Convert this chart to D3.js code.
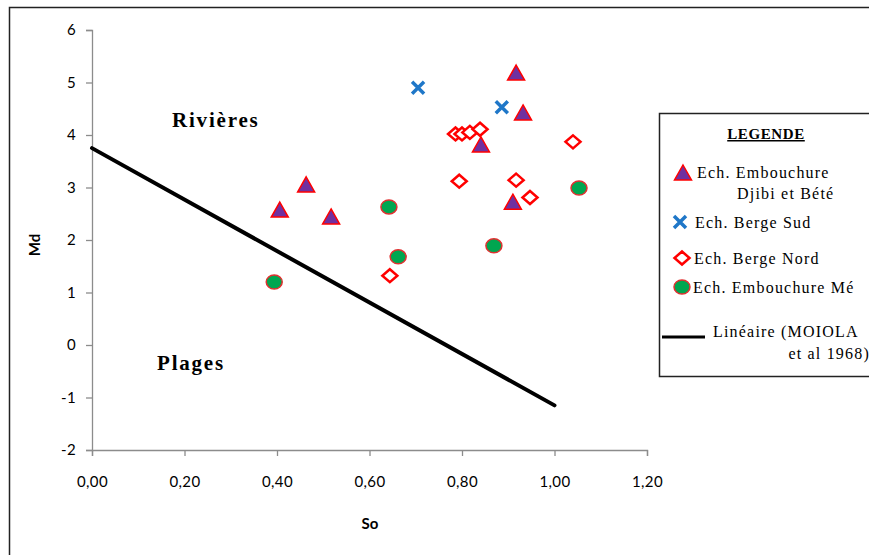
<!DOCTYPE html>
<html>
<head>
<meta charset="utf-8">
<script src="https://cdn.jsdelivr.net/npm/d3@7"></script>
<style>
  body { margin: 0; background: #fff; }
  svg text { fill: #000; }
</style>
</head>
<body>
<svg id="chart" width="869" height="555"></svg>
<script>
'use strict';

// Values (So, Md)
var djibiBete = [[0.406, 2.57], [0.463, 3.05], [0.517, 2.44], [0.917, 5.18],
                 [0.932, 4.42], [0.841, 3.81], [0.910, 2.72]];
var bergeSud = [[0.705, 4.90], [0.886, 4.53]];
var bergeNord = [[0.786, 4.02], [0.800, 4.02], [0.817, 4.05], [0.839, 4.11],
                 [1.040, 3.87], [0.794, 3.12], [0.917, 3.14], [0.947, 2.81],
                 [0.644, 1.32]];
var embouchureMe = [[0.642, 2.63], [0.662, 1.68], [0.394, 1.20],
                    [0.869, 1.89], [1.053, 2.99]];
var moiolaLine = [[0.0, 3.75], [1.0, -1.15]];

var xTicks = [0, 0.2, 0.4, 0.6, 0.8, 1.0, 1.2];
var yTicks = [-2, -1, 0, 1, 2, 3, 4, 5, 6];

var svg = d3.select('#chart');
var sans = 'Lato, "Open Sans", sans-serif';
var serif = '"Liberation Serif", "DejaVu Serif", serif';

// outer frame
svg.append('rect')
    .attr('x', 9.5).attr('y', 7.5)
    .attr('width', 880).attr('height', 580)
    .attr('fill', 'none').attr('stroke', '#222').attr('stroke-width', 1.5);

var x = d3.scaleLinear().domain([0, 1.2]).range([92, 647]);
var y = d3.scaleLinear().domain([-2, 6]).range([450, 30]);

var fmtX = function (d) { return d.toFixed(2).replace('.', ','); };
var fmtY = function (d) { return String(d); };   // plain hyphen for negatives

var xAxis = svg.append('g')
    .attr('transform', 'translate(0,' + y(-2) + ')')
    .call(d3.axisBottom(x).tickValues(xTicks).tickFormat(fmtX).tickSize(6).tickPadding(20));
var yAxis = svg.append('g')
    .attr('transform', 'translate(' + x(0) + ',0)')
    .call(d3.axisLeft(y).tickValues(yTicks).tickFormat(fmtY).tickSize(6).tickPadding(10));

[xAxis, yAxis].forEach(function (a) {
    a.select('.domain').attr('stroke', '#8c8c8c').attr('stroke-width', 1.3);
    a.selectAll('.tick line').attr('stroke', '#8c8c8c').attr('stroke-width', 1.3);
    a.selectAll('.tick text').attr('font-family', sans).attr('font-size', 15)
        .attr('letter-spacing', 0.4).attr('fill', '#000');
});

svg.append('text')
    .attr('x', 370).attr('y', 529)
    .attr('text-anchor', 'middle')
    .attr('font-family', sans).attr('font-size', 15).attr('font-weight', 'bold')
    .text('So');
svg.append('text')
    .attr('transform', 'translate(40,245) rotate(-90)')
    .attr('text-anchor', 'middle')
    .attr('font-family', sans).attr('font-size', 15).attr('font-weight', 'bold')
    .text('Md');

// zone labels
svg.append('text')
    .attr('x', 172).attr('y', 127)
    .attr('font-family', serif).attr('font-size', 21).attr('font-weight', 'bold')
    .attr('letter-spacing', 1.8)
    .text('Rivières');
svg.append('text')
    .attr('x', 157).attr('y', 370)
    .attr('font-family', serif).attr('font-size', 21).attr('font-weight', 'bold')
    .attr('letter-spacing', 1.8)
    .text('Plages');

// MOIOLA line
var line = d3.line()
    .x(function (d) { return x(d[0]); })
    .y(function (d) { return y(d[1]); });
svg.append('path')
    .datum(moiolaLine)
    .attr('d', line)
    .attr('fill', 'none').attr('stroke', '#000')
    .attr('stroke-width', 4).attr('stroke-linecap', 'round');

// marker shapes
var triPath = 'M0,-8L8.5,7L-8.5,7Z';
var diaPath = 'M0,-6.5L7.5,0L0,6.5L-7.5,0Z';
var crossPath = 'M-6,-6L6,6M6,-6L-6,6';

function drawTri(g, px, py) {
    g.append('path').attr('transform', 'translate(' + px + ',' + py + ')')
        .attr('d', triPath).attr('fill', '#7030a0')
        .attr('stroke', '#ff0000').attr('stroke-width', 1.5);
}
function drawCross(g, px, py) {
    g.append('path').attr('transform', 'translate(' + px + ',' + py + ')')
        .attr('d', crossPath).attr('fill', 'none')
        .attr('stroke', '#1f77c8').attr('stroke-width', 3.5);
}
function drawDia(g, px, py) {
    g.append('path').attr('transform', 'translate(' + px + ',' + py + ')')
        .attr('d', diaPath).attr('fill', '#fff')
        .attr('stroke', '#ff0000').attr('stroke-width', 2.5);
}
function drawCirc(g, px, py) {
    g.append('ellipse').attr('cx', px).attr('cy', py)
        .attr('rx', 8).attr('ry', 7).attr('fill', '#00a650')
        .attr('stroke', '#e03030').attr('stroke-width', 1.5);
}

var pts = svg.append('g');
embouchureMe.forEach(function (d) { drawCirc(pts, x(d[0]), y(d[1])); });
bergeNord.forEach(function (d) { drawDia(pts, x(d[0]), y(d[1])); });
djibiBete.forEach(function (d) { drawTri(pts, x(d[0]), y(d[1])); });
bergeSud.forEach(function (d) { drawCross(pts, x(d[0]), y(d[1])); });

// legend
var lg = svg.append('g');
lg.append('rect')
    .attr('x', 659.5).attr('y', 113.5).attr('width', 220).attr('height', 263)
    .attr('fill', '#fff').attr('stroke', '#222').attr('stroke-width', 1.5);
lg.append('text')
    .attr('x', 766).attr('y', 139).attr('text-anchor', 'middle')
    .attr('font-family', serif).attr('font-size', 15).attr('font-weight', 'bold')
    .attr('letter-spacing', 0.6).attr('text-decoration', 'underline')
    .text('LEGENDE');

function legendText(tx, ty, s, anchor) {
    lg.append('text').attr('x', tx).attr('y', ty)
        .attr('text-anchor', anchor || 'start')
        .attr('font-family', serif).attr('font-size', 16)
        .attr('letter-spacing', 1.2)
        .text(s);
}
drawTri(lg, 683, 173);
legendText(697, 178, 'Ech. Embouchure');
legendText(737, 199, 'Djibi et Bété');
drawCross(lg, 680, 222);
legendText(695, 228, 'Ech. Berge Sud');
drawDia(lg, 682, 258);
legendText(694, 264, 'Ech. Berge Nord');
drawCirc(lg, 682, 287);
legendText(693, 293, 'Ech. Embouchure Mé');
lg.append('line')
    .attr('x1', 662).attr('x2', 705).attr('y1', 337).attr('y2', 337)
    .attr('stroke', '#000').attr('stroke-width', 3);
legendText(713, 337, 'Linéaire (MOIOLA');
legendText(870, 359, 'et al 1968)', 'end');
</script>
</body>
</html>
